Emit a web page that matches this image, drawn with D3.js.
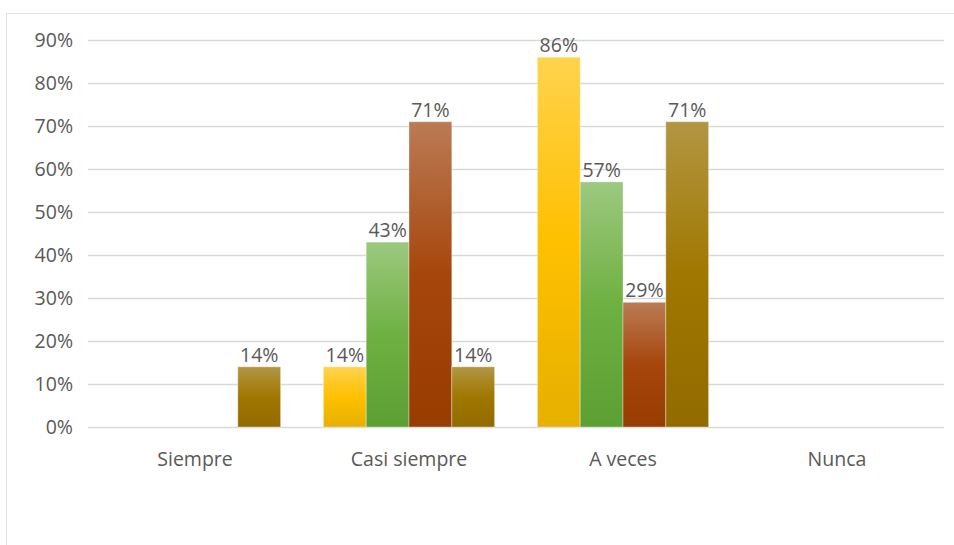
<!DOCTYPE html>
<html>
<head>
<meta charset="utf-8">
<script src="https://cdn.jsdelivr.net/npm/d3@7"></script>
<style>
  html, body { margin: 0; padding: 0; background: #fff; }
  svg { display: block; }
  text { font-family: "Open Sans", "Noto Sans", sans-serif; fill: #595959; }
</style>
</head>
<body>
<svg id="chart" width="954" height="545"></svg>
<script>
// Response categories along the x axis
const categories = ["Siempre", "Casi siempre", "A veces", "Nunca"];
// Four series, one value (in %) per category; null = no bar
const series1 = [null, 14, 86, null];
const series2 = [null, 43, 57, null];
const series3 = [null, 71, 29, null];
const series4 = [14, 14, 71, null];
const seriesNames = ["s1", "s2", "s3", "s4"];
const yTicks = [0, 10, 20, 30, 40, 50, 60, 70, 80, 90];

const allSeries = [series1, series2, series3, series4];
// gradient stops per series: top, middle, bottom
const gradients = [
  ["#ffd34d", "#ffc000", "#e6b000"],
  ["#9cc97f", "#6fb042", "#5c9f32"],
  ["#bb7b55", "#a6460c", "#983c00"],
  ["#b29643", "#a07700", "#926b00"]
];

const svg = d3.select("#chart");
const W = 954, H = 545;
const left = 88, right = 944;
const FS = 19.5;

// chart frame
svg.append("rect")
  .attr("x", 6.5).attr("y", 13.5)
  .attr("width", W + 10).attr("height", H + 10)
  .attr("fill", "#fff").attr("stroke", "#e3e3e3").attr("stroke-width", 1);

const defs = svg.append("defs");
gradients.forEach((g, i) => {
  const lg = defs.append("linearGradient")
    .attr("id", "grad" + i).attr("x1", 0).attr("y1", 0).attr("x2", 0).attr("y2", 1);
  lg.append("stop").attr("offset", "0%").attr("stop-color", g[0]);
  lg.append("stop").attr("offset", "50%").attr("stop-color", g[1]);
  lg.append("stop").attr("offset", "100%").attr("stop-color", g[2]);
});

const x0 = d3.scaleBand().domain(categories).range([left, right]).paddingInner(0).paddingOuter(0);
const x1 = d3.scaleBand().domain(seriesNames).range([0, x0.bandwidth()]).paddingOuter(0.5).paddingInner(0);
const y = d3.scaleLinear().domain([0, 90]).range([427, 40]);

// horizontal gridlines
svg.append("g").selectAll("line").data(yTicks).join("line")
  .attr("x1", left).attr("x2", right)
  .attr("y1", d => y(d) + 0.5).attr("y2", d => y(d) + 0.5)
  .attr("stroke", "#d9d9d9").attr("stroke-width", 1.3);

// y axis labels
const yAxis = d3.axisLeft(y).tickValues(yTicks).tickFormat(d => d + "%").tickSize(0).tickPadding(15);
const gy = svg.append("g").attr("transform", `translate(${left},0)`).call(yAxis);
gy.select(".domain").remove();
gy.selectAll("text").attr("font-size", FS).attr("fill", "#595959")
  .style("font-family", '"Open Sans", sans-serif');

// x axis labels
const xAxis = d3.axisBottom(x0).tickSize(0).tickPadding(25);
const gx = svg.append("g").attr("transform", `translate(0,${y(0)})`).call(xAxis);
gx.select(".domain").remove();
gx.selectAll("text").attr("font-size", FS).attr("fill", "#595959")
  .style("font-family", '"Open Sans", sans-serif');

// bars
const bars = [];
categories.forEach((c, ci) => {
  allSeries.forEach((s, si) => {
    if (s[ci] != null) bars.push({ cat: c, si, name: seriesNames[si], v: s[ci] });
  });
});

const g = svg.append("g");
g.selectAll("rect").data(bars).join("rect")
  .attr("x", d => x0(d.cat) + x1(d.name))
  .attr("y", d => y(d.v))
  .attr("width", x1.bandwidth())
  .attr("height", d => y(0) - y(d.v))
  .attr("fill", d => `url(#grad${d.si})`)
  .attr("stroke", "rgba(255,255,255,0.35)").attr("stroke-width", 1);

// value labels
g.selectAll("text.lbl").data(bars).join("text")
  .attr("class", "lbl")
  .attr("x", d => x0(d.cat) + x1(d.name) + x1.bandwidth() / 2)
  .attr("y", d => y(d.v) - 5)
  .attr("text-anchor", "middle")
  .attr("font-size", FS)
  .text(d => d.v + "%");
</script>
</body>
</html>
